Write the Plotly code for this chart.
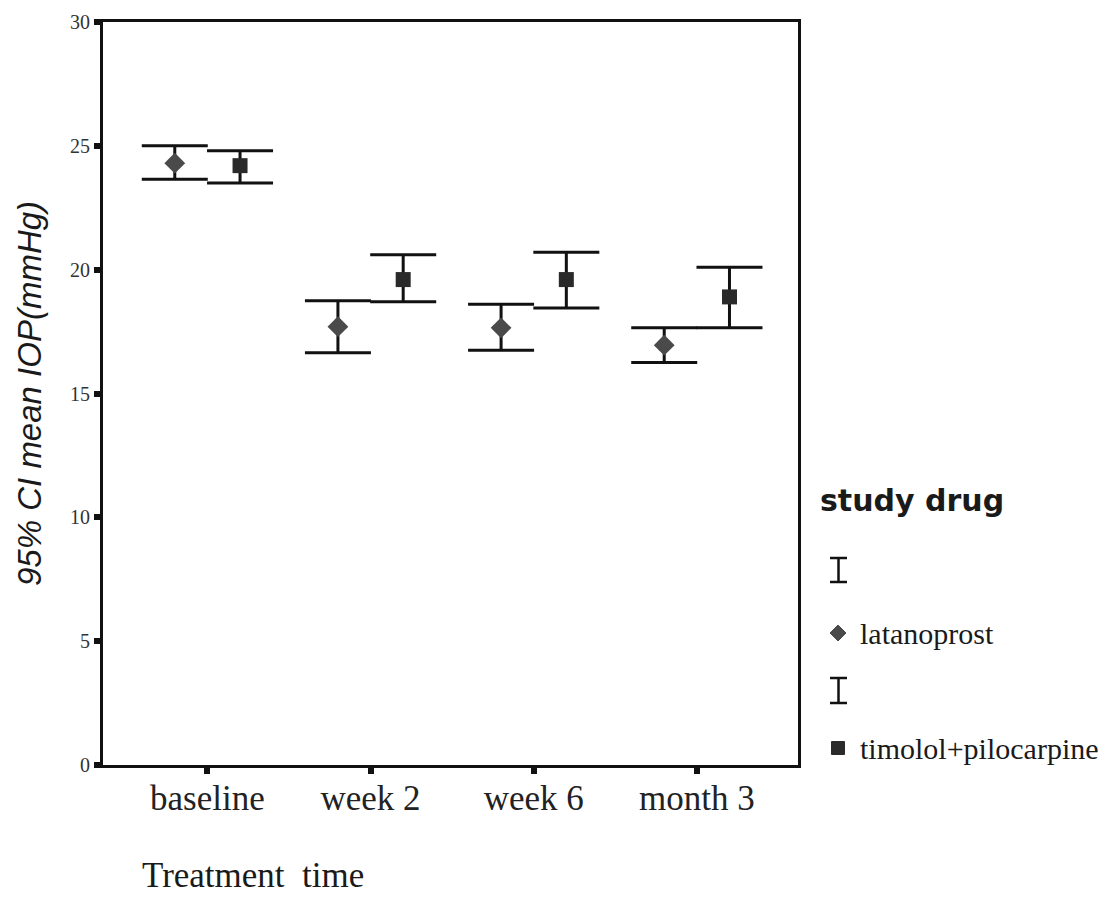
import plotly.graph_objects as go

# ---- data ----
categories = ["baseline", "week 2", "week 6", "month 3"]
lat_mean = [24.3, 17.7, 17.65, 16.95]
lat_upper = [25.0, 18.75, 18.6, 17.65]
lat_lower = [23.65, 16.65, 16.75, 16.25]
tim_mean = [24.2, 19.6, 19.6, 18.9]
tim_upper = [24.8, 20.6, 20.7, 20.1]
tim_lower = [23.5, 18.7, 18.45, 17.65]
y_ticks = [0, 5, 10, 15, 20, 25, 30]
legend_title = "study drug"
series_names = ["latanoprost", "timolol+pilocarpine"]

BODY = 8  # default page margin
W, H = 1113 - BODY, 912 - BODY
L, T = 103 - BODY, 22 - BODY
PW, PH = 695, 743
R, B = W - L - PW, H - T - PH

def px(x):
    return (x - BODY - L) / PW

def py(y):
    return (T + PH - (y - BODY)) / PH

idx = list(range(len(categories)))
off = 0.2

fig = go.Figure()
fig.add_trace(go.Scatter(
    x=[i - off for i in idx], y=lat_mean, mode="markers",
    marker=dict(symbol="diamond", size=16, color="#4a4a4a"),
    error_y=dict(type="data", symmetric=False,
                 array=[u - m for u, m in zip(lat_upper, lat_mean)],
                 arrayminus=[m - l for m, l in zip(lat_mean, lat_lower)],
                 color="#111111", thickness=3, width=33),
    name=series_names[0], showlegend=False))
fig.add_trace(go.Scatter(
    x=[i + off for i in idx], y=tim_mean, mode="markers",
    marker=dict(symbol="square", size=15, color="#2a2a2a"),
    error_y=dict(type="data", symmetric=False,
                 array=[u - m for u, m in zip(tim_upper, tim_mean)],
                 arrayminus=[m - l for m, l in zip(tim_mean, tim_lower)],
                 color="#111111", thickness=3, width=33),
    name=series_names[1], showlegend=False))

fig.update_xaxes(
    range=[-0.64, 3.62], tickmode="array", tickvals=idx, ticktext=categories,
    showgrid=False, zeroline=False, showline=True, linecolor="#111111",
    linewidth=3, mirror=True, ticks="outside", ticklen=6, tickwidth=6,
    tickcolor="#111111", ticklabelstandoff=-6,
    tickfont=dict(family="Liberation Serif", size=35, color="#222222"))
fig.update_yaxes(
    range=[0, 30], tickmode="array", tickvals=y_ticks,
    showgrid=False, zeroline=False, showline=True, linecolor="#111111",
    linewidth=3, mirror=True, ticks="outside", ticklen=6, tickwidth=6,
    tickcolor="#111111",
    tickfont=dict(family="Liberation Serif", size=20, color="#333333"))

annotations = [
    dict(text="<i>95% CI mean IOP(mmHg)</i>", x=px(30), y=py(394),
         xref="paper", yref="paper", textangle=-90, showarrow=False,
         font=dict(family="Liberation Sans", size=33, color="#1a1a1a"),
         xanchor="center", yanchor="middle"),
    dict(text="Treatment\u00a0 time", x=px(140), y=py(875),
         xref="paper", yref="paper", showarrow=False,
         font=dict(family="Liberation Serif", size=35, color="#1a1a1a"),
         xanchor="left", yanchor="middle"),
    dict(text="<b>" + legend_title + "</b>", x=px(818), y=py(500),
         xref="paper", yref="paper", showarrow=False,
         font=dict(family="DejaVu Sans", size=30, color="#1a1a1a"),
         xanchor="left", yanchor="middle"),
    dict(text=series_names[0], x=px(858), y=py(633),
         xref="paper", yref="paper", showarrow=False,
         font=dict(family="Liberation Serif", size=30, color="#1a1a1a"),
         xanchor="left", yanchor="middle"),
    dict(text=series_names[1], x=px(858), y=py(748),
         xref="paper", yref="paper", showarrow=False,
         font=dict(family="Liberation Serif", size=30, color="#1a1a1a"),
         xanchor="left", yanchor="middle"),
]

shapes = []
for top, bot in [(558, 582), (678, 703)]:
    path = (f"M{px(830)},{py(top)} L{px(847)},{py(top)} "
            f"M{px(838.5)},{py(top)} L{px(838.5)},{py(bot)} "
            f"M{px(830)},{py(bot)} L{px(847)},{py(bot)}")
    shapes.append(dict(type="path", path=path, xref="paper", yref="paper",
                       line=dict(color="#111111", width=2.5)))
# diamond legend symbol
cx, cy, r = 838, 633, 8
shapes.append(dict(type="path",
                   path=f"M{px(cx - r)},{py(cy)} L{px(cx)},{py(cy - r)} L{px(cx + r)},{py(cy)} L{px(cx)},{py(cy + r)} Z",
                   xref="paper", yref="paper", fillcolor="#4a4a4a",
                   line=dict(color="#4a4a4a", width=1)))
# square legend symbol
cx, cy, r = 838, 748, 6.5
shapes.append(dict(type="rect", x0=px(cx - r), x1=px(cx + r),
                   y0=py(cy + r), y1=py(cy - r), xref="paper", yref="paper",
                   fillcolor="#2a2a2a", line=dict(color="#2a2a2a", width=1)))

fig.update_layout(
    width=W, height=H, margin=dict(l=L, r=R, t=T, b=B, autoexpand=False),
    paper_bgcolor="white", plot_bgcolor="white",
    annotations=annotations, shapes=shapes, showlegend=False)

fig.write_html("out.html")
